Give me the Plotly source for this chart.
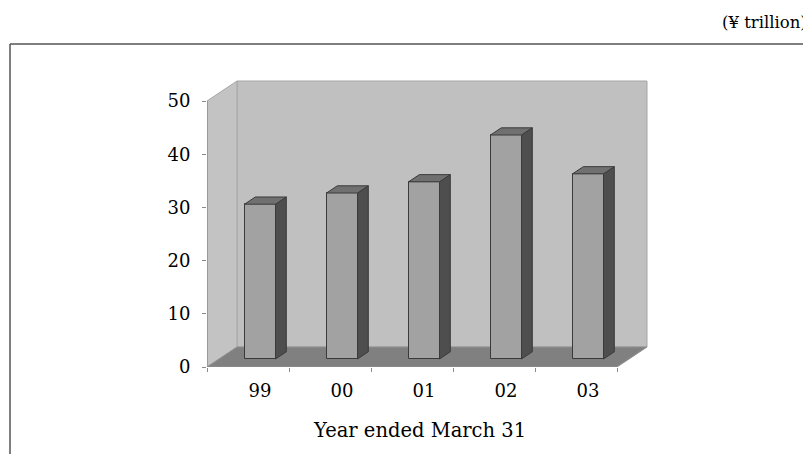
import plotly.graph_objects as go

# ---- data ----
categories = ["99", "00", "01", "02", "03"]
values = [29.1, 31.2, 33.3, 42.1, 34.8]          # ¥ trillion
y_ticks = [0, 10, 20, 30, 40, 50]
y_max = 50
unit_label = "(¥ trillion)"
x_title = "Year ended March 31"

# ---- pseudo-3D geometry (data units) ----
N = len(categories)
PX_X, PX_Y = 82.0, 5.32          # pixels per data unit
DX, DY = 30 / PX_X, 20 / PX_Y     # full depth of the chart box
F = 0.40                          # depth position of bar fronts
D = 0.36                          # bar depth (fraction of box depth)
W = 31 / PX_X                     # bar width

FONT = "DejaVu Serif"
FRONT, SIDE, TOP = "#a2a2a2", "#4e4e4e", "#707070"
EDGE = "#3a3a3a"

centers = [i + 0.5 + F * DX for i in range(N)]
base = F * DY

fig = go.Figure()

# front faces as real bars
fig.add_trace(go.Bar(
    x=centers, y=values, base=[base] * N, width=W,
    marker=dict(color=FRONT, line=dict(color=EDGE, width=1)),
    hoverinfo="skip", showlegend=False,
))

# side and top faces derived from the values
sx, sy, tx, ty = [], [], [], []
bdx, bdy = D * DX, D * DY
for c, v in zip(centers, values):
    x0, x1 = c - W / 2, c + W / 2
    yb, yt = base, base + v
    sx += [x1, x1 + bdx, x1 + bdx, x1, x1, None]
    sy += [yb, yb + bdy, yt + bdy, yt, yb, None]
    tx += [x0, x1, x1 + bdx, x0 + bdx, x0, None]
    ty += [yt, yt, yt + bdy, yt + bdy, yt, None]

fig.add_trace(go.Scatter(x=sx, y=sy, mode="lines", fill="toself",
                         fillcolor=SIDE, line=dict(color=EDGE, width=1),
                         hoverinfo="skip", showlegend=False))
fig.add_trace(go.Scatter(x=tx, y=ty, mode="lines", fill="toself",
                         fillcolor=TOP, line=dict(color=EDGE, width=1),
                         hoverinfo="skip", showlegend=False))

# ---- walls, floor, axis lines ----
def poly(pts):
    return "M " + " L ".join(f"{x},{y}" for x, y in pts) + " Z"

shapes = [
    dict(type="path", xref="x", yref="y", layer="below",
         path=poly([(DX, DY), (N + DX, DY), (N + DX, y_max + DY), (DX, y_max + DY)]),
         fillcolor="#c0c0c0", line=dict(color="#a6a6a6", width=1)),
    dict(type="path", xref="x", yref="y", layer="below",
         path=poly([(0, 0), (DX, DY), (DX, y_max + DY), (0, y_max)]),
         fillcolor="#c3c3c3", line=dict(color="#a6a6a6", width=1)),
    dict(type="path", xref="x", yref="y", layer="below",
         path=poly([(0, 0), (N, 0), (N + DX, DY), (DX, DY)]),
         fillcolor="#808080", line=dict(color="#909090", width=1)),
    dict(type="line", xref="x", yref="y", x0=0, y0=0, x1=0, y1=y_max,
         line=dict(color="#8a8a8a", width=1.2)),
    dict(type="line", xref="x", yref="y", x0=0, y0=0, x1=N, y1=0,
         line=dict(color="#8a8a8a", width=1.2)),
]

# page body has an 8px margin: work in window pixels, convert to figure pixels
OFF = 8
L, R, T, B = 207 - OFF, 652 - OFF, 80 - OFF, 367 - OFF
pw, ph = R - L, B - T
def px_to_paper(px, py):
    px, py = px - OFF, py - OFF
    return (px - L) / pw, (B - py) / ph

fx0, fy1 = px_to_paper(10, 44)
fx1, _ = px_to_paper(830, 44)
_, fy0 = px_to_paper(10, 470)
shapes += [
    dict(type="line", xref="paper", yref="paper", x0=fx0, y0=fy1, x1=fx1, y1=fy1,
         line=dict(color="#555555", width=1.5)),
    dict(type="line", xref="paper", yref="paper", x0=fx0, y0=fy1, x1=fx0, y1=fy0,
         line=dict(color="#555555", width=1.5)),
]

ax_x, ax_y = px_to_paper(809, 22)
tx_x, tx_y = px_to_paper(419, 430)

fig.update_layout(
    width=811, height=454,
    margin=dict(l=L, r=811 - R, t=T, b=454 - B),
    paper_bgcolor="white", plot_bgcolor="white",
    shapes=shapes,
    bargap=0,
    annotations=[
        dict(text=unit_label, xref="paper", yref="paper", x=ax_x, y=ax_y,
             xanchor="right", yanchor="middle", showarrow=False,
             font=dict(family=FONT, size=16.5, color="black")),
        dict(text=x_title, xref="paper", yref="paper", x=tx_x, y=tx_y,
             xanchor="center", yanchor="middle", showarrow=False,
             font=dict(family=FONT, size=19.5, color="black")),
    ],
    xaxis=dict(
        range=[0, pw / PX_X], autorange=False, fixedrange=True,
        tickmode="array", tickvals=centers, ticktext=categories,
        ticks="", showline=False, showgrid=False, zeroline=False,
        tickfont=dict(family=FONT, size=18, color="black"),
        ticklabelstandoff=11,
        minor=dict(tickmode="array", tickvals=list(range(N + 1)),
                   ticks="outside", ticklen=4, tickcolor="#8a8a8a", tickwidth=1,
                   showgrid=False),
    ),
    yaxis=dict(
        range=[0, ph / PX_Y], autorange=False, fixedrange=True,
        tickmode="array", tickvals=y_ticks, ticktext=[str(t) for t in y_ticks],
        ticks="outside", ticklen=4, tickcolor="#8a8a8a", tickwidth=1,
        showline=False, showgrid=False, zeroline=False,
        tickfont=dict(family=FONT, size=18, color="black"),
        ticklabelstandoff=8,
    ),
)

fig.write_html("out.html")
